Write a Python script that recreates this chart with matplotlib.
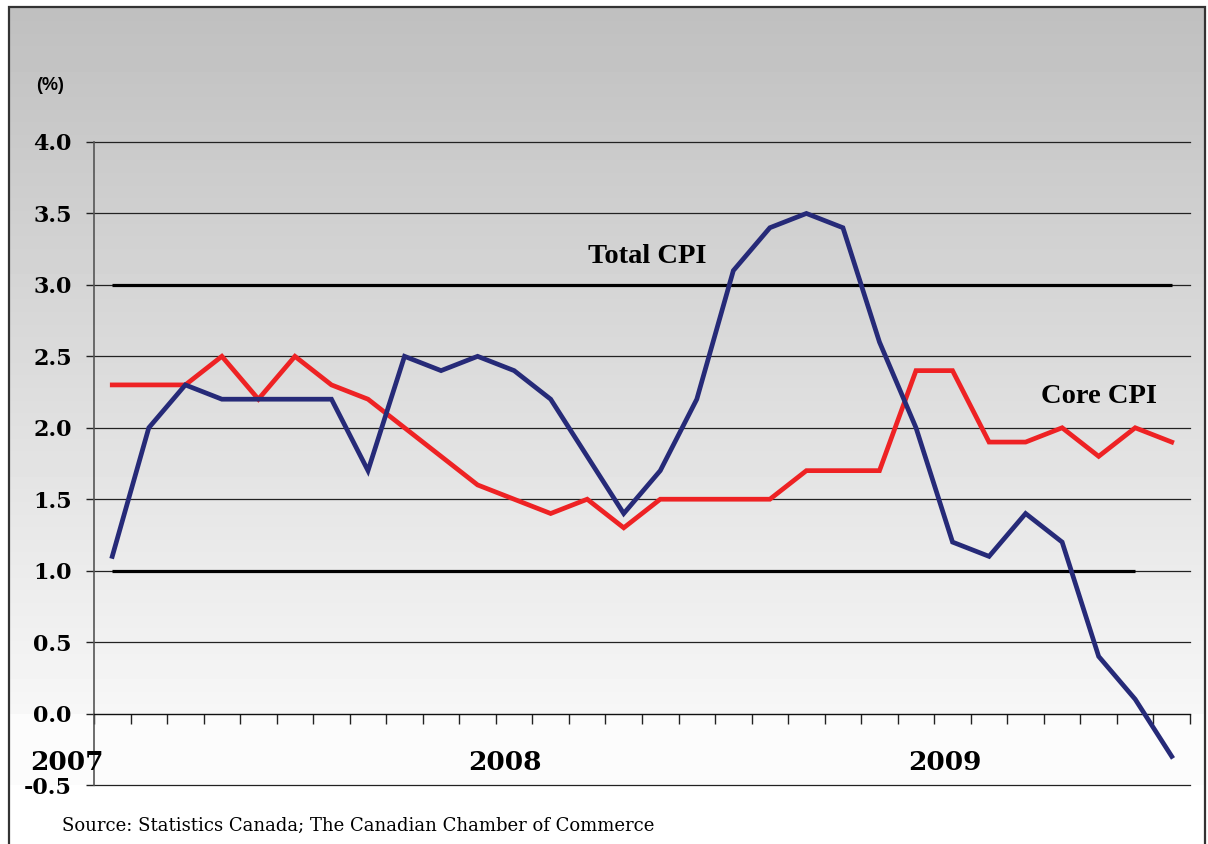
import numpy as np
import matplotlib
matplotlib.use("Agg")
import matplotlib.pyplot as plt
from matplotlib.patches import Rectangle

# ---- data (monthly, Jan 2007 - Jun 2009) ----
months = list(range(30))
total_cpi = [1.1, 2.0, 2.3, 2.2, 2.2, 2.2, 2.2, 1.7, 2.5, 2.4, 2.5, 2.4,
             2.2, 1.8, 1.4, 1.7, 2.2, 3.1, 3.4, 3.5, 3.4, 2.6, 2.0, 1.2,
             1.1, 1.4, 1.2, 0.4, 0.1, -0.3]
core_cpi = [2.3, 2.3, 2.3, 2.5, 2.2, 2.5, 2.3, 2.2, 2.0, 1.8, 1.6, 1.5,
            1.4, 1.5, 1.3, 1.5, 1.5, 1.5, 1.5, 1.7, 1.7, 1.7, 2.4, 2.4,
            1.9, 1.9, 2.0, 1.8, 2.0, 1.9]
upper_target = 3.0
lower_target = 1.0
upper_span = (0, 29)
lower_span = (0, 28)
yticks = [-0.5, 0.0, 0.5, 1.0, 1.5, 2.0, 2.5, 3.0, 3.5, 4.0]
ytick_labels = ["-0.5", "0.0", "0.5", "1.0", "1.5", "2.0", "2.5", "3.0", "3.5", "4.0"]
year_labels = ["2007", "2008", "2009"]
year_pos = [-1.24, 10.75, 22.8]

W, H = 1208, 844
fig = plt.figure(figsize=(W / 100, H / 100), dpi=100)
fig.patch.set_facecolor("white")

# ---- background gradient panel ----
bg = fig.add_axes([0, 0, 1, 1], zorder=-5)
bg.axis("off")
rows = np.arange(H)
top, zero_row, bot_row = 8, 714, 785
t = np.clip((rows - top) / (zero_row - top), 0, 1)
col = 0.75 + t * (0.968 - 0.75)
col[rows >= zero_row] = 0.988
col[rows >= bot_row] = 1.0
col[rows < top] = 1.0
img = np.repeat(col[:, None], W, axis=1)
img[:, :9] = 1.0
img[:, 1205:] = 1.0
bg.imshow(img, cmap="gray", vmin=0, vmax=1, aspect="auto",
          extent=(0, W, H, 0), interpolation="nearest")
bg.set_xlim(0, W)
bg.set_ylim(H, 0)
# border
fig.patches.append(Rectangle((8.5 / W, -0.1), (1205 - 8.5) / W, 1.1 - 7 / H,
                             transform=fig.transFigure, fill=False,
                             edgecolor="#333333", linewidth=1.6, zorder=-4))

# ---- main axes ----
left, right = 94 / W, 1190 / W
bottom, topf = (H - 785) / H, (H - 142) / H
ax = fig.add_axes([left, bottom, right - left, topf - bottom])
ax.set_facecolor("none")
ax.set_xlim(-0.5, 29.5)
ax.set_ylim(-0.5, 4.0)

for s in ["top", "right"]:
    ax.spines[s].set_visible(False)
ax.spines["left"].set_color("#555555")
ax.spines["left"].set_linewidth(1.2)
ax.spines["bottom"].set_position(("data", 0))
ax.spines["bottom"].set_color("#111111")
ax.spines["bottom"].set_linewidth(1.0)

ax.set_xticks(np.arange(-0.5, 30, 1))
ax.set_xticklabels([])
ax.tick_params(axis="x", direction="out", length=7, width=1.0, color="#222222")

ax.set_yticks(yticks)
ax.set_yticklabels(ytick_labels)
ax.tick_params(axis="y", direction="out", length=6, width=1.0, color="#222222",
               pad=10, labelsize=16)
for lab in ax.get_yticklabels():
    lab.set_fontfamily("DejaVu Serif")
    lab.set_fontweight("heavy")

for y in yticks:
    if y != 0.0:
        ax.axhline(y, color="#222222", linewidth=0.9, zorder=1, clip_on=False)

# target band lines
ax.hlines(upper_target, upper_span[0], upper_span[1], color="black", linewidth=2.3, zorder=2)
ax.hlines(lower_target, lower_span[0], lower_span[1], color="black", linewidth=2.3, zorder=2)

ax.plot(months, total_cpi, color="#262a78", linewidth=3.4, zorder=4,
        solid_joinstyle="miter", clip_on=False)
ax.plot(months, core_cpi, color="#ee2224", linewidth=3.4, zorder=3,
        solid_joinstyle="miter", clip_on=False)

ax.text(14.64, 3.20, "Total CPI", ha="center", va="center", fontsize=20.5,
        fontweight="bold", family="Liberation Serif")
ax.text(27.0, 2.22, "Core CPI", ha="center", va="center", fontsize=20.5,
        fontweight="bold", family="Liberation Serif")

for lab, xp in zip(year_labels, year_pos):
    ax.text(xp, -0.34, lab, ha="center", va="center", fontsize=19,
            fontweight="heavy", family="DejaVu Serif", clip_on=False)

fig.text(50 / W, (H - 86) / H, "(%)", ha="center", va="center", fontsize=13,
         fontweight="bold", family="Liberation Sans")
fig.text(62 / W, (H - 826) / H, "Source: Statistics Canada; The Canadian Chamber of Commerce",
         ha="left", va="center", fontsize=13, family="DejaVu Serif")

fig.savefig("out.png", dpi=100)
